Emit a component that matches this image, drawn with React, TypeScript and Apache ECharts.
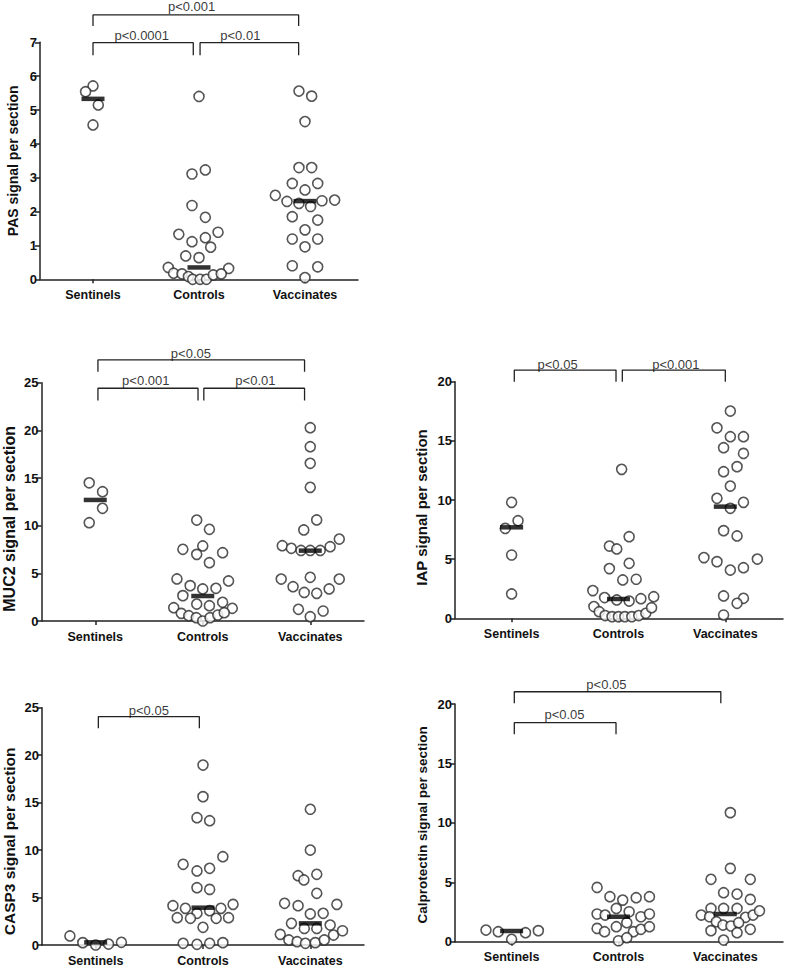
import React, { useEffect, useRef } from "react";
import * as echarts from "echarts";

const categories = ["Sentinels", "Controls", "Vaccinates"];

// Each point: [horizontal offset within the group (beeswarm spread), value]
const pasSentinels = [[0, 5.71], [-0.07, 5.54], [0.05, 5.15], [0, 4.56]];
const pasControls = [[0, 5.4], [-0.066, 3.11], [0.06, 3.23], [-0.066, 2.18], [0.06, 1.83], [-0.19, 1.33], [0.18, 1.39], [-0.066, 1.11], [0.06, 1.23], [0.11, 0.95], [-0.125, 0.69], [0, 0.64], [-0.29, 0.35], [0.28, 0.32], [-0.24, 0.18], [-0.16, 0.16], [-0.1, 0.08], [-0.06, 0], [0.01, 0], [0.07, 0], [0.135, 0.13], [0.21, 0.16]];
const pasVaccinates = [[-0.057, 5.56], [0.063, 5.41], [0, 4.66], [-0.057, 3.3], [0.063, 3.3], [-0.12, 2.83], [0.12, 2.83], [0, 2.64], [-0.28, 2.48], [-0.17, 2.3], [-0.057, 2.24], [0.053, 2.15], [0.16, 2.32], [0.28, 2.34], [-0.12, 1.85], [0.12, 1.75], [0, 1.46], [-0.12, 1.19], [0.12, 1.19], [0, 0.96], [-0.12, 0.4], [0.12, 0.37], [0, 0.05]];
const pasMedians = [5.33, 0.35, 2.31];

const muc2Sentinels = [[-0.056, 14.5], [0.068, 13.57], [0.068, 11.82], [-0.056, 10.31]];
const muc2Controls = [[-0.056, 10.59], [0.062, 9.62], [-0.185, 7.52], [0, 7.87], [-0.056, 6.99], [0.185, 7.17], [0.062, 6.12], [-0.24, 4.41], [0.24, 4.2], [-0.117, 3.71], [0, 3.36], [0.123, 3.43], [-0.185, 2.66], [0.185, 1.96], [-0.056, 1.78], [0.062, 1.61], [-0.27, 1.4], [0.275, 1.33], [-0.2, 0.8], [-0.13, 0.56], [-0.06, 0.35], [0, 0], [0.068, 0.35], [0.14, 0.63], [0.2, 0.87]];
const muc2Vaccinates = [[0, 20.28], [0, 18.29], [0, 16.54], [0, 14.02], [0.06, 10.6], [-0.06, 9.55], [-0.26, 7.9], [-0.176, 7.63], [-0.086, 7.4], [0, 7.4], [0.093, 7.4], [0.185, 7.8], [0.27, 8.6], [-0.27, 4.4], [0, 4.58], [0.27, 4.4], [-0.16, 3.6], [-0.056, 3.0], [0.06, 2.9], [0.176, 3.36], [-0.11, 1.23], [0.12, 1.05], [0, 0.45]];
const muc2Medians = [12.7, 2.62, 7.38];

const iapSentinels = [[0, 9.8], [0.06, 8.25], [-0.06, 7.6], [0, 5.35], [0, 2.06]];
const iapControls = [[0.03, 12.59], [0.1, 6.9], [-0.085, 6.11], [-0.016, 5.86], [0.1, 4.65], [-0.085, 4.2], [0.04, 3.24], [0.166, 3.3], [-0.24, 2.34], [-0.13, 1.75], [-0.016, 1.55], [0.1, 1.46], [0.21, 1.66], [0.33, 1.83], [-0.23, 0.99], [-0.18, 0.56], [-0.125, 0.23], [-0.06, 0.14], [0, 0.14], [0.06, 0.14], [0.125, 0.14], [0.19, 0.23], [0.256, 0.42], [0.31, 0.9]];
const iapVaccinates = [[0.047, 17.52], [-0.078, 16.1], [0.047, 15.35], [0.17, 15.35], [-0.016, 14.42], [0.17, 13.94], [0.11, 12.82], [-0.016, 12.39], [0.047, 11.18], [-0.078, 10.14], [0.17, 9.8], [0.047, 9.3], [-0.016, 7.41], [0.11, 6.96], [-0.2, 5.13], [-0.078, 4.79], [0.047, 4.08], [0.17, 4.28], [0.3, 5.01], [-0.016, 1.89], [0.17, 1.69], [0.11, 1.27], [-0.016, 0.28]];
const iapMedians = [7.69, 1.63, 9.44];

const casp3Sentinels = [[-0.24, 0.95], [-0.12, 0.25], [0, 0], [0.12, 0.1], [0.24, 0.28]];
const casp3Controls = [[0, 18.96], [0, 15.63], [-0.056, 13.41], [0.062, 13.1], [0.185, 9.3], [-0.185, 8.5], [-0.056, 7.8], [0.062, 8.08], [-0.056, 6.04], [0.062, 5.86], [-0.28, 4.14], [-0.164, 3.86], [-0.056, 3.34], [0.062, 3.62], [0.167, 3.86], [0.28, 4.28], [-0.24, 2.88], [-0.117, 2.81], [0.123, 2.81], [0.238, 2.88], [0, 1.86], [-0.185, 0.18], [-0.056, 0.07], [0.062, 0.18], [0.185, 0.25]];
const casp3Vaccinates = [[0, 14.3], [0, 10.0], [-0.114, 7.3], [-0.06, 6.85], [0.06, 7.45], [0.06, 5.45], [-0.24, 4.39], [-0.114, 4.14], [0.247, 4.28], [0, 3.27], [0.12, 3.34], [-0.176, 2.28], [0.185, 2.1], [-0.056, 1.75], [0.06, 1.75], [-0.28, 1.12], [0.216, 1.05], [0.3, 1.5], [-0.2, 0.53], [-0.123, 0.35], [-0.046, 0.18], [0.046, 0.25], [0.13, 0.53]];
const casp3Medians = [0.28, 3.93, 2.28];

const calSentinels = [[-0.24, 0.98], [-0.125, 0.84], [0, 0.2], [0.13, 0.76], [0.25, 0.93]];
const calControls = [[-0.2, 4.57], [-0.08, 3.79], [0.04, 3.5], [0.166, 3.7], [0.29, 3.79], [-0.2, 2.33], [-0.125, 2.24], [-0.02, 2.8], [0.1, 2.52], [0.21, 2.1], [0.29, 2.33], [-0.2, 1.12], [-0.13, 0.84], [-0.02, 1.26], [0.078, 1.6], [0.14, 0.84], [0.21, 1.04], [0.29, 1.26], [0, 0.08], [0.078, 0.34]];
const calVaccinates = [[0.047, 10.86], [0.047, 6.17], [-0.134, 5.25], [0.234, 5.25], [-0.016, 4.12], [0.11, 4.01], [0.234, 3.56], [-0.134, 2.8], [-0.016, 2.8], [0.11, 2.8], [-0.225, 2.24], [-0.147, 2.1], [0.19, 2.05], [0.26, 2.24], [0.32, 2.6], [-0.084, 1.68], [-0.022, 1.4], [0.053, 1.32], [0.125, 1.6], [-0.134, 0.93], [0.11, 0.76], [0.234, 1.04], [-0.016, 0.14]];
const calMedians = [0.9, 2.1, 2.33];

// Significance brackets: [fromX, toX, barY, legY, label, labelX, labelY]
const pasBrackets = [
  [1.0, 1.946, 6.99, 6.62, "p<0.0001", 1.46, 7.21],
  [2.01, 2.94, 6.99, 6.62, "p<0.01", 2.39, 7.21],
  [1.0, 2.94, 7.81, 7.48, "p<0.001", 1.93, 8.06],
];
const muc2Brackets = [
  [1.025, 1.956, 24.42, 23.12, "p<0.001", 1.47, 25.2],
  [2.01, 2.947, 24.42, 23.12, "p<0.01", 2.49, 25.2],
  [1.025, 2.947, 27.39, 26.16, "p<0.05", 1.89, 28.04],
];
const iapBrackets = [
  [1.025, 1.977, 20.98, 19.99, "p<0.05", 1.43, 21.45],
  [2.036, 3.0, 20.98, 19.99, "p<0.001", 2.537, 21.45],
];
const casp3Brackets = [
  [1.025, 1.966, 24.06, 22.83, "p<0.05", 1.495, 24.68],
];
const calBrackets = [
  [1.025, 1.977, 18.43, 17.45, "p<0.05", 1.495, 19.14],
  [1.025, 2.958, 21.03, 20.06, "p<0.05", 1.887, 21.6],
];

const panels = [
  { title: "PAS signal per section", groups: [pasSentinels, pasControls, pasVaccinates], medians: pasMedians, brackets: pasBrackets, yMax: 7, yInterval: 1 },
  { title: "MUC2 signal per section", groups: [muc2Sentinels, muc2Controls, muc2Vaccinates], medians: muc2Medians, brackets: muc2Brackets, yMax: 25, yInterval: 5 },
  { title: "IAP signal per section", groups: [iapSentinels, iapControls, iapVaccinates], medians: iapMedians, brackets: iapBrackets, yMax: 20, yInterval: 5 },
  { title: "CASP3 signal per section", groups: [casp3Sentinels, casp3Controls, casp3Vaccinates], medians: casp3Medians, brackets: casp3Brackets, yMax: 25, yInterval: 5 },
  { title: "Calprotectin signal per section", groups: [calSentinels, calControls, calVaccinates], medians: calMedians, brackets: calBrackets, yMax: 20, yInterval: 5 },
];

const layout = [
  { grid: { left: 40, top: 42.3, width: 318, height: 237 }, xMin: 0.5, xMax: 3.5, nameGap: 20, nameSize: 14, nameShift: 0 },
  { grid: { left: 40, top: 382.7, width: 324, height: 238.3 }, xMin: 0.5, xMax: 3.5, nameGap: 24.5, nameSize: 16, nameShift: 34 },
  { grid: { left: 455, top: 381.7, width: 328, height: 236.6 }, xMin: 0.47, xMax: 3.54, nameGap: 26, nameSize: 15, nameShift: 15 },
  { grid: { left: 40, top: 707.7, width: 324, height: 237.3 }, xMin: 0.5, xMax: 3.5, nameGap: 25, nameSize: 15.5, nameShift: 30 },
  { grid: { left: 455, top: 704, width: 328, height: 237.7 }, xMin: 0.47, xMax: 3.54, nameGap: 26, nameSize: 13.5, nameShift: 4 },
];

const AXIS = "#222";
const FONT = "'Liberation Sans', Arial, sans-serif";

function buildOption() {
  const grid: any[] = [];
  const xAxis: any[] = [];
  const yAxis: any[] = [];
  const series: any[] = [];
  panels.forEach((p, i) => {
    const L = layout[i];
    grid.push({ ...L.grid, containLabel: false });
    xAxis.push({
      gridIndex: i,
      type: "value",
      min: L.xMin,
      max: L.xMax,
      splitLine: { show: false },
      axisLine: { show: true, onZero: false, lineStyle: { color: AXIS, width: 1.5 } },
      axisTick: { show: true, customValues: [1, 2, 3], length: 4, lineStyle: { color: AXIS, width: 1.5 } },
      axisLabel: {
        customValues: [1, 2, 3],
        formatter: (v: number) => categories[Math.round(v) - 1] || "",
        fontWeight: "bold",
        fontSize: 12.5,
        fontFamily: FONT,
        color: "#111",
        margin: 9,
      },
    });
    yAxis.push({
      gridIndex: i,
      type: "value",
      min: 0,
      max: p.yMax,
      interval: p.yInterval,
      splitLine: { show: false },
      axisLine: { show: true, onZero: false, lineStyle: { color: AXIS, width: 1.5 } },
      axisTick: { show: true, length: 5, lineStyle: { color: AXIS, width: 1.5 } },
      axisLabel: { fontWeight: "bold", fontSize: 13, fontFamily: FONT, color: "#111", margin: 3 },
      name: p.title,
      nameLocation: "middle",
      nameGap: L.nameGap,
      nameTextStyle: {
        fontWeight: "bold",
        fontSize: L.nameSize,
        fontFamily: FONT,
        color: "#111",
        padding: [0, L.nameShift, 0, 0],
      },
    });
    const pts: number[][] = [];
    p.groups.forEach((g, gi) => g.forEach((d) => pts.push([gi + 1 + d[0], d[1]])));
    series.push({
      type: "scatter",
      xAxisIndex: i,
      yAxisIndex: i,
      clip: false,
      symbol: "circle",
      symbolSize: 10,
      itemStyle: { color: "#fff", borderColor: "#2a2a2a", borderWidth: 1.6 },
      data: pts,
      z: 2,
    });
    series.push({
      type: "scatter",
      xAxisIndex: i,
      yAxisIndex: i,
      clip: false,
      symbol: "rect",
      symbolSize: [23, 4.5],
      itemStyle: { color: "#000" },
      data: p.medians.map((m, gi) => [gi + 1, m]),
      z: 5,
    });
    p.brackets.forEach((b: any) => {
      series.push({
        type: "line",
        xAxisIndex: i,
        yAxisIndex: i,
        clip: false,
        symbol: "none",
        lineStyle: { color: "#222", width: 1.3 },
        data: [[b[0], b[3]], [b[0], b[2]], [b[1], b[2]], [b[1], b[3]]],
        z: 3,
      });
    });
    series.push({
      type: "scatter",
      xAxisIndex: i,
      yAxisIndex: i,
      clip: false,
      symbolSize: 1,
      itemStyle: { color: "transparent" },
      label: {
        show: true,
        position: "inside",
        formatter: (prm: any) => prm.data[2],
        fontSize: 13,
        fontFamily: FONT,
        color: "#000",
      },
      data: p.brackets.map((b: any) => [b[5], b[6], b[4]]),
      z: 4,
    });
  });
  return { animation: false, backgroundColor: "#fff", grid, xAxis, yAxis, series };
}

export default function App() {
  const ref = useRef<HTMLDivElement>(null);
  useEffect(() => {
    if (!ref.current) return;
    const chart = echarts.init(ref.current, undefined, { renderer: "svg" });
    chart.setOption(buildOption() as any);
    return () => chart.dispose();
  }, []);
  return (
    <div
      ref={ref}
      style={{ position: "fixed", left: 0, top: 0, width: 787, height: 967, background: "#fff" }}
    />
  );
}
